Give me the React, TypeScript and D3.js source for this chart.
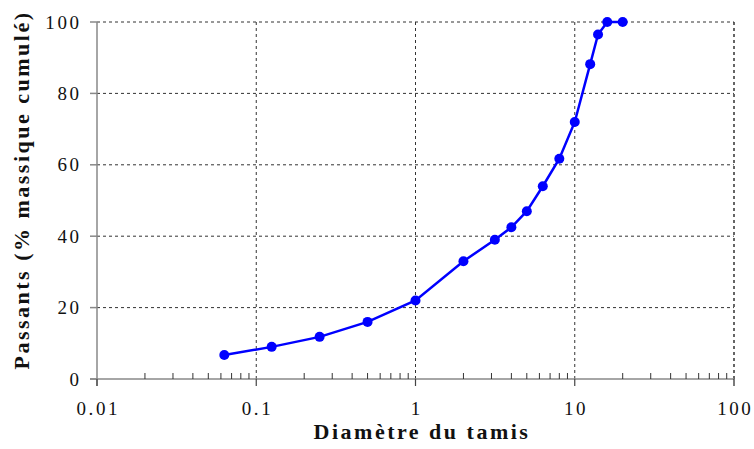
import React from "react";
import * as d3 from "d3";

const sieveSizes = [0.063, 0.125, 0.25, 0.5, 1, 2, 3.15, 4, 5, 6.3, 8, 10, 12.5, 14, 16, 20];
const passing = [6.7, 9, 11.8, 16, 22, 33, 39, 42.5, 47, 54, 61.7, 72, 88.2, 96.5, 100, 100];
const xTicks = [0.01, 0.1, 1, 10, 100];
const xTickLabels = ["0.01", "0.1", "1", "10", "100"];
const yTicks = [0, 20, 40, 60, 80, 100];
const xTitle = "Diamètre du tamis";
const yTitle = "Passants (% massique cumulé)";

const W = 754;
const H = 449;
const left = 97;
const right = 734;
const top = 22;
const bottom = 379;
const font = '"Liberation Serif"';
const tickLS = 2.6;

export default function App() {
  const x = d3.scaleLog().domain([0.01, 100]).range([left, right]);
  const y = d3.scaleLinear().domain([0, 100]).range([bottom, top]);
  const data = sieveSizes.map((d, i) => ({ d, p: passing[i] }));
  const line = d3
    .line<{ d: number; p: number }>()
    .x((v) => x(v.d))
    .y((v) => y(v.p));

  const minor: number[] = [];
  for (let e = -2; e < 2; e++) {
    for (let k = 2; k <= 9; k++) minor.push(k * Math.pow(10, e));
  }

  const tickStyle = { fontFamily: font, fontSize: "19px", letterSpacing: tickLS + "px" };
  const titleStyle = { fontFamily: font, fontSize: "22px", fontWeight: 700, letterSpacing: "2.5px" };

  return (
    <svg
      width={W}
      height={H}
      style={{ position: "absolute", left: 0, top: 0, background: "#fff", fontFamily: font }}
    >
      {/* grid */}
      {yTicks
        .filter((t) => t > 0)
        .map((t) => (
          <line
            key={"gy" + t}
            x1={left}
            x2={right}
            y1={y(t)}
            y2={y(t)}
            stroke="#333"
            strokeWidth={1}
            strokeDasharray="3,3"
          />
        ))}
      {xTicks
        .filter((t) => t > 0.01)
        .map((t) => (
          <line
            key={"gx" + t}
            x1={x(t)}
            x2={x(t)}
            y1={top}
            y2={bottom}
            stroke="#333"
            strokeWidth={t === 100 ? 1.5 : 1}
            strokeDasharray="3,3"
          />
        ))}
      {/* axes */}
      <line x1={left} x2={left} y1={top} y2={bottom + 7} stroke="#888" strokeWidth={1.5} />
      <line x1={left - 7} x2={right} y1={bottom} y2={bottom} stroke="#888" strokeWidth={1.5} />
      {yTicks.map((t) => (
        <line key={"ty" + t} x1={left - 7} x2={left} y1={y(t)} y2={y(t)} stroke="#888" strokeWidth={1.5} />
      ))}
      {xTicks.map((t) => (
        <line
          key={"tx" + t}
          x1={x(t)}
          x2={x(t)}
          y1={bottom}
          y2={bottom + 7}
          stroke={t === 100 ? "#222" : "#444"}
          strokeWidth={1.2}
        />
      ))}
      {minor.map((t) => (
        <line key={"m" + t} x1={x(t)} x2={x(t)} y1={bottom - 6} y2={bottom} stroke="#333" strokeWidth={1} />
      ))}
      {/* labels */}
      {yTicks.map((t) => (
        <text key={"ly" + t} x={79 + tickLS} y={y(t)} dy="0.35em" textAnchor="end" style={tickStyle} fill="#111">
          {t}
        </text>
      ))}
      {xTicks.map((t, i) => (
        <text
          key={"lx" + t}
          x={x(t) + tickLS / 2}
          y={415}
          textAnchor="middle"
          style={tickStyle}
          fill="#111"
        >
          {xTickLabels[i]}
        </text>
      ))}
      <text x={422} y={439} textAnchor="middle" style={titleStyle} fill="#111">
        {xTitle}
      </text>
      <text transform={`translate(29, 190) rotate(-90)`} textAnchor="middle" style={titleStyle} fill="#111">
        {yTitle}
      </text>
      {/* series */}
      <path d={line(data) || ""} fill="none" stroke="#0000ff" strokeWidth={2.5} />
      {data.map((v, i) => (
        <circle key={"p" + i} cx={x(v.d)} cy={y(v.p)} r={5} fill="#0000ff" />
      ))}
    </svg>
  );
}
